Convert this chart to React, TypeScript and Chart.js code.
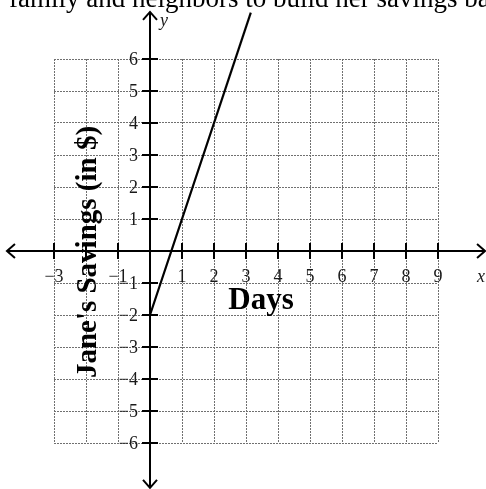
import React, { useEffect, useRef } from "react";
import { Chart, registerables } from "chart.js";

Chart.register(...registerables);

// ---- data ----
const linePointsX = [0, 3.15];
const linePointsY = [-2, 7.45];
const xTickValues = [-3, -1, 1, 2, 3, 4, 5, 6, 7, 8, 9];
const xTickLabels = ["\u22123", "\u22121", "1", "2", "3", "4", "5", "6", "7", "8", "9"];
const yTickValues = [6, 5, 4, 3, 2, 1, -1, -2, -3, -4, -5, -6];
const yTickLabels = ["6", "5", "4", "3", "2", "1", "\u22121", "\u22122", "\u22123", "\u22124", "\u22125", "\u22126"];
const xTickMarks = [-3, -2, -1, 1, 2, 3, 4, 5, 6, 7, 8, 9];
const yTickMarks = [6, 5, 4, 3, 2, 1, -1, -2, -3, -4, -5, -6];
const xAxisRange = [-4.47, 10.47];
const yAxisRange = [-7.4, 7.47];
const xLabel = "Days";
const yLabel = "Jane's Savings (in $)";
const topText = "family and neighbors to build her savings back";

const SERIF = '"Liberation Serif", "Times New Roman", serif';

const axesPlugin = {
  id: "customAxes",
  afterDraw(chart: any) {
    const { ctx } = chart;
    const xs = chart.scales.x;
    const ys = chart.scales.y;
    const x0 = xs.getPixelForValue(0);
    const y0 = ys.getPixelForValue(0);
    const xl = xs.getPixelForValue(xAxisRange[0]);
    const xr = xs.getPixelForValue(xAxisRange[1]);
    const yt = ys.getPixelForValue(yAxisRange[1]);
    const yb = ys.getPixelForValue(yAxisRange[0]);
    ctx.save();
    ctx.strokeStyle = "#000";
    ctx.lineWidth = 2;
    ctx.lineCap = "butt";
    // axes
    ctx.beginPath();
    ctx.moveTo(xl + 1, y0);
    ctx.lineTo(xr - 1, y0);
    ctx.moveTo(x0, yt + 1);
    ctx.lineTo(x0, yb - 1);
    ctx.stroke();
    // arrowheads
    const a = 8;
    const h = 7;
    ctx.beginPath();
    ctx.moveTo(xl + a, y0 - h);
    ctx.lineTo(xl, y0);
    ctx.lineTo(xl + a, y0 + h);
    ctx.moveTo(xr - a, y0 - h);
    ctx.lineTo(xr, y0);
    ctx.lineTo(xr - a, y0 + h);
    ctx.moveTo(x0 - h, yt + a);
    ctx.lineTo(x0, yt);
    ctx.lineTo(x0 + h, yt + a);
    ctx.moveTo(x0 - h, yb - a);
    ctx.lineTo(x0, yb);
    ctx.lineTo(x0 + h, yb - a);
    ctx.stroke();
    // tick marks
    ctx.beginPath();
    xTickMarks.forEach((v) => {
      const px = xs.getPixelForValue(v);
      ctx.moveTo(px, y0 - 8);
      ctx.lineTo(px, y0 + 8);
    });
    yTickMarks.forEach((v) => {
      const py = ys.getPixelForValue(v);
      ctx.moveTo(x0 - 8, py);
      ctx.lineTo(x0 + 8, py);
    });
    ctx.stroke();

    // tick labels
    ctx.fillStyle = "#1a1a1a";
    ctx.font = `18px ${SERIF}`;
    ctx.textAlign = "center";
    ctx.textBaseline = "alphabetic";
    xTickValues.forEach((v, i) => {
      ctx.fillText(xTickLabels[i], xs.getPixelForValue(v), y0 + 31);
    });
    ctx.textAlign = "right";
    ctx.textBaseline = "middle";
    yTickValues.forEach((v, i) => {
      ctx.fillText(yTickLabels[i], x0 - 12, ys.getPixelForValue(v) + 1);
    });

    // axis letters
    ctx.font = `italic 18px ${SERIF}`;
    ctx.textAlign = "center";
    ctx.textBaseline = "alphabetic";
    ctx.fillText("x", xr - 4, y0 + 31);
    ctx.textAlign = "left";
    ctx.fillText("y", x0 + 10, yt + 14);

    // axis titles
    ctx.fillStyle = "#000";
    ctx.font = `bold 31px ${SERIF}`;
    ctx.textAlign = "center";
    ctx.fillText(xLabel, xs.getPixelForValue(3.47), y0 + 58);

    ctx.save();
    ctx.translate(xs.getPixelForValue(-1.69), y0 + 1);
    ctx.rotate(-Math.PI / 2);
    ctx.font = `bold 29px ${SERIF}`;
    ctx.textAlign = "center";
    ctx.textBaseline = "alphabetic";
    ctx.fillText(yLabel, 0, 0);
    ctx.restore();

    // cropped text at top
    ctx.font = `27px ${SERIF}`;
    ctx.textAlign = "left";
    ctx.textBaseline = "alphabetic";
    ctx.fillStyle = "#000";
    ctx.fillText(topText, 9, 7);
    ctx.restore();
  },
};

export default function App() {
  const ref = useRef<HTMLCanvasElement | null>(null);
  useEffect(() => {
    if (!ref.current) return;
    const chart = new Chart(ref.current, {
      type: "scatter",
      data: {
        datasets: [
          {
            data: linePointsX.map((x, i) => ({ x, y: linePointsY[i] })),
            showLine: true,
            borderColor: "#000",
            borderWidth: 2.2,
            pointRadius: 0,
            clip: false as any,
          },
        ],
      },
      options: {
        animation: false,
        responsive: false,
        events: [],
        layout: { padding: { left: 54, right: 48, top: 59, bottom: 46 } },
        plugins: { legend: { display: false }, tooltip: { enabled: false } },
        scales: {
          x: {
            type: "linear",
            min: -3,
            max: 9,
            ticks: { display: false, stepSize: 1 },
            grid: { color: "#707070", lineWidth: 1, drawTicks: false },
            border: { display: false, dash: [2, 1] },
          },
          y: {
            type: "linear",
            min: -6,
            max: 6,
            ticks: { display: false, stepSize: 1 },
            grid: { color: "#707070", lineWidth: 1, drawTicks: false },
            border: { display: false, dash: [2, 1] },
          },
        },
      },
      plugins: [axesPlugin],
    });
    return () => chart.destroy();
  }, []);
  return (
    <div style={{ position: "fixed", left: 0, top: 0, width: 486, height: 489, background: "#fff" }}>
      <canvas ref={ref} width={486} height={489} style={{ display: "block" }} />
    </div>
  );
}
